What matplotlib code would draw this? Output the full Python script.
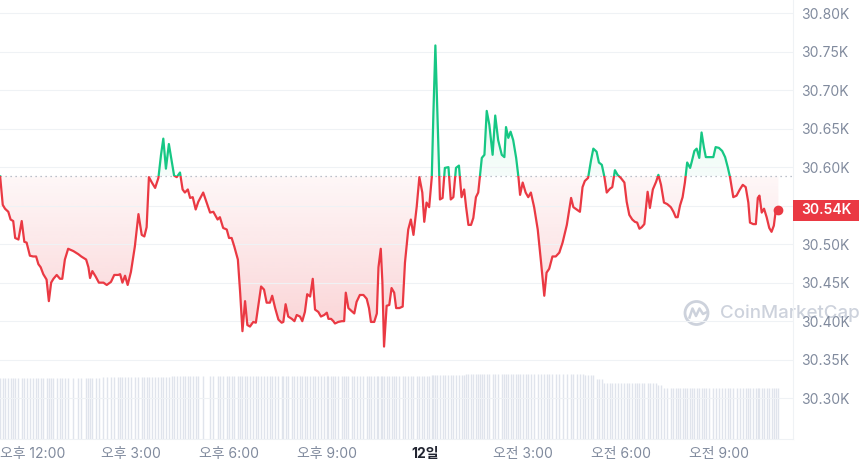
import numpy as np
import matplotlib
matplotlib.use("Agg")
import matplotlib.pyplot as plt
import matplotlib.transforms as mtransforms
from matplotlib.colors import to_rgb
from matplotlib.lines import Line2D
from matplotlib.patches import Circle, Rectangle
from matplotlib.path import Path

plt.rcParams["font.family"] = ["Inter", "Noto Sans CJK KR", "DejaVu Sans"]

# time in hours since midnight of the 11th (24 = midnight of the 12th)
hours = [
    11.01, 11.09, 11.16, 11.26, 11.33, 11.41, 11.47, 11.57, 11.67, 11.75,
    11.82, 11.92, 12.02, 12.11, 12.18, 12.25, 12.33, 12.43, 12.50, 12.57,
    12.64, 12.74, 12.84, 12.91, 12.99, 13.09, 13.25, 13.40, 13.49, 13.64,
    13.71, 13.76, 13.83, 13.93, 14.03, 14.17, 14.27, 14.40, 14.50, 14.62,
    14.68, 14.75, 14.83, 14.91, 15.01, 15.13, 15.24, 15.34, 15.42, 15.49,
    15.56, 15.65, 15.75, 15.85, 15.93, 16.00, 16.08, 16.17, 16.26, 16.33,
    16.41, 16.51, 16.59, 16.66, 16.75, 16.82, 16.90, 16.99, 17.07, 17.22,
    17.43, 17.53, 17.66, 17.73, 17.83, 17.94, 18.01, 18.09, 18.17, 18.28,
    18.35, 18.42, 18.50, 18.57, 18.65, 18.75, 18.83, 18.90, 18.99, 19.08,
    19.16, 19.26, 19.33, 19.42, 19.52, 19.62, 19.67, 19.74, 19.82, 19.93,
    20.01, 20.08, 20.18, 20.25, 20.33, 20.40, 20.49, 20.57, 20.64, 20.74,
    20.82, 20.92, 21.00, 21.05, 21.13, 21.20, 21.25, 21.35, 21.46, 21.53,
    21.58, 21.66, 21.76, 21.84, 21.91, 22.01, 22.12, 22.22, 22.29, 22.35,
    22.45, 22.53, 22.58, 22.65, 22.70, 22.75, 22.83, 22.91, 22.98, 23.06,
    23.12, 23.22, 23.32, 23.39, 23.49, 23.57, 23.65, 23.75, 23.83, 23.92,
    23.98, 24.05, 24.13, 24.21, 24.26, 24.32, 24.38, 24.46, 24.54, 24.61,
    24.72, 24.79, 24.87, 24.95, 25.04, 25.12, 25.20, 25.26, 25.33, 25.41,
    25.48, 25.56, 25.63, 25.68, 25.74, 25.82, 25.89, 25.97, 26.07, 26.15,
    26.24, 26.35, 26.43, 26.48, 26.55, 26.62, 26.70, 26.79, 26.86, 26.91,
    26.99, 27.08, 27.16, 27.24, 27.34, 27.45, 27.55, 27.65, 27.72, 27.80,
    27.90, 28.00, 28.11, 28.21, 28.34, 28.47, 28.54, 28.64, 28.74, 28.82,
    28.89, 28.99, 29.08, 29.15, 29.25, 29.32, 29.41, 29.49, 29.56, 29.66,
    29.73, 29.81, 29.89, 29.99, 30.10, 30.17, 30.25, 30.34, 30.42, 30.49,
    30.56, 30.63, 30.71, 30.81, 30.88, 30.97, 31.07, 31.14, 31.22, 31.31,
    31.41, 31.52, 31.60, 31.67, 31.73, 31.80, 31.88, 31.95, 32.02, 32.11,
    32.16, 32.24, 32.31, 32.39, 32.46, 32.53, 32.59, 32.69, 32.82, 32.89,
    32.99, 33.09, 33.18, 33.26, 33.33, 33.43, 33.53, 33.63, 33.72, 33.81,
    33.89, 33.94, 34.04, 34.12, 34.18, 34.23, 34.30, 34.37, 34.45, 34.53,
    34.60, 34.67, 34.73, 34.81,
]

prices = [
    30588, 30551, 30546, 30542, 30532, 30530, 30508, 30506, 30530, 30503,
    30502, 30485, 30484, 30484, 30474, 30470, 30461, 30454, 30426, 30450,
    30455, 30460, 30455, 30455, 30480, 30494, 30491, 30487, 30484, 30480,
    30470, 30456, 30465, 30458, 30450, 30450, 30447, 30451, 30460, 30460,
    30461, 30450, 30459, 30447, 30464, 30497, 30539, 30512, 30510, 30522,
    30587, 30580, 30573, 30586, 30616, 30637, 30598, 30630, 30607, 30589,
    30587, 30593, 30571, 30567, 30571, 30560, 30561, 30545, 30555, 30567,
    30541, 30542, 30532, 30535, 30521, 30519, 30508, 30508, 30497, 30480,
    30437, 30387, 30426, 30395, 30393, 30399, 30398, 30419, 30445, 30441,
    30424, 30424, 30433, 30417, 30402, 30398, 30399, 30422, 30406, 30403,
    30400, 30408, 30406, 30400, 30412, 30435, 30432, 30455, 30415, 30412,
    30406, 30408, 30411, 30403, 30403, 30400, 30397, 30399, 30400, 30400,
    30437, 30417, 30413, 30410, 30425, 30434, 30434, 30429, 30417, 30399,
    30399, 30410, 30470, 30494, 30450, 30367, 30420, 30421, 30443, 30437,
    30417, 30417, 30419, 30476, 30519, 30532, 30512, 30549, 30587, 30567,
    30529, 30554, 30548, 30587, 30671, 30758, 30671, 30558, 30560, 30599,
    30600, 30558, 30561, 30599, 30602, 30561, 30571, 30548, 30525, 30525,
    30534, 30561, 30567, 30587, 30612, 30616, 30673, 30655, 30616, 30667,
    30635, 30616, 30613, 30652, 30638, 30646, 30635, 30612, 30587, 30564,
    30580, 30567, 30561, 30567, 30548, 30519, 30477, 30433, 30463, 30468,
    30484, 30484, 30489, 30502, 30525, 30560, 30548, 30545, 30542, 30574,
    30582, 30586, 30609, 30624, 30620, 30606, 30603, 30587, 30567, 30572,
    30574, 30596, 30590, 30586, 30580, 30555, 30538, 30532, 30529, 30528,
    30520, 30522, 30526, 30568, 30547, 30571, 30581, 30590, 30577, 30554,
    30552, 30548, 30542, 30535, 30535, 30550, 30561, 30580, 30606, 30599,
    30607, 30621, 30624, 30612, 30645, 30626, 30613, 30613, 30613, 30626,
    30625, 30621, 30613, 30600, 30587, 30561, 30563, 30571, 30577, 30574,
    30554, 30528, 30526, 30526, 30560, 30563, 30541, 30546, 30535, 30521,
    30516, 30524, 30544, 30544,
]

# 24h volume (billions USD, relative scale only)
volume_bn = [
    12.3, 12.3, 12.3, 12.3, 12.3, 12.3, 12.3, 12.3, 12.3, 12.3,
    12.3, 12.3, 12.3, 12.3, 12.3, 12.3, 12.3, 12.3, 12.3, 12.3,
    12.3, 12.3, 12.3, 12.3, 12.3, 12.3, 12.3, 12.3, 12.3, 12.3,
    12.3, 12.3, 12.3, 12.3, 12.3, 12.5, 12.5, 12.5, 12.5, 12.5,
    12.5, 12.5, 12.5, 12.5, 12.5, 12.5, 12.5, 12.5, 12.5, 12.5,
    12.5, 12.5, 12.5, 12.5, 12.5, 12.5, 12.5, 12.5, 12.7, 12.7,
    12.7, 12.7, 12.7, 12.7, 12.7, 12.7, 12.7, 12.7, 12.7, 12.7,
    12.7, 12.7, 12.7, 12.7, 12.7, 12.7, 12.7, 12.7, 12.7, 12.7,
    12.7, 12.7, 12.7, 12.7, 12.7, 12.7, 12.7, 12.7, 12.7, 12.7,
    12.7, 12.7, 12.7, 12.7, 12.7, 12.7, 12.7, 12.7, 12.7, 12.7,
    12.7, 12.7, 12.7, 12.7, 12.7, 12.7, 12.7, 12.7, 12.7, 12.7,
    12.7, 12.7, 12.7, 12.7, 12.7, 12.7, 12.7, 12.7, 12.7, 12.7,
    12.7, 12.7, 12.7, 12.7, 12.7, 12.7, 12.7, 12.7, 12.7, 12.7,
    12.7, 12.7, 12.7, 12.7, 12.7, 12.7, 12.7, 12.7, 12.7, 12.7,
    12.7, 12.7, 12.7, 12.7, 12.7, 12.7, 12.7, 12.7, 12.7, 12.7,
    12.7, 12.7, 12.7, 12.9, 12.9, 12.9, 12.9, 12.9, 12.9, 12.9,
    12.9, 12.9, 12.9, 12.9, 12.9, 12.9, 12.9, 13.1, 13.1, 13.1,
    13.1, 13.1, 13.1, 13.1, 13.1, 13.1, 13.1, 13.1, 13.1, 13.1,
    13.1, 13.1, 13.1, 13.1, 13.1, 13.1, 13.1, 13.1, 13.1, 13.1,
    13.1, 13.1, 13.1, 13.1, 13.1, 13.1, 13.1, 13.1, 13.1, 13.1,
    13.1, 13.1, 13.1, 13.1, 13.1, 13.1, 13.1, 13.1, 13.1, 13.1,
    12.8, 12.8, 12.8, 12.8, 12.0, 12.0, 12.0, 11.3, 11.3, 11.3,
    11.3, 11.3, 11.3, 11.3, 11.3, 11.3, 11.3, 11.3, 11.3, 11.3,
    11.3, 11.3, 11.3, 11.3, 11.3, 11.3, 11.3, 10.8, 10.8, 10.3,
    10.3, 10.3, 10.3, 10.3, 10.3, 10.3, 10.3, 10.3, 10.3, 10.3,
    10.3, 10.3, 10.3, 10.3, 10.3, 10.3, 10.3, 10.3, 10.3, 10.3,
    10.3, 10.3, 10.3, 10.3, 10.3, 10.3, 10.3, 10.3, 10.3, 10.3,
    10.3, 10.3, 10.3, 10.3, 10.3, 10.3, 10.3, 10.3, 10.3, 10.3,
    10.3, 10.3, 10.3, 10.3,
]

x_ticks = [12, 15, 18, 21, 24, 27, 30, 33]
x_labels = ["오후 12:00", "오후 3:00", "오후 6:00", "오후 9:00", "12일",
            "오전 3:00", "오전 6:00", "오전 9:00"]
y_ticks = [30300, 30350, 30400, 30450, 30500, 30550, 30600, 30650, 30700, 30750, 30800]
y_labels = ["30.30K", "30.35K", "30.40K", "30.45K", "30.50K", "",
            "30.60K", "30.65K", "30.70K", "30.75K", "30.80K"]

RED = "#ea3943"
GREEN = "#16c784"
GRID = "#eff2f5"
MUTED = "#808a9d"

open_price = prices[0]
last_price = prices[-1]
x0, x1 = 11.006, 35.256
y0, y1 = 30247, 30817

fig = plt.figure(figsize=(8.6, 4.69), dpi=100)
rect = [0, 30 / 469, 793 / 860, 439 / 469]

# watermark sits under everything else
wm = "#cdd2dc"
fig.add_artist(Circle((6.965, 1.56), 0.115, transform=fig.dpi_scale_trans,
                      facecolor="none", edgecolor=wm, lw=2.0, zorder=-1))
fig.add_artist(Line2D([6.895, 6.925, 6.96, 6.995, 7.03, 7.06],
                      [1.515, 1.605, 1.53, 1.605, 1.55, 1.565],
                      transform=fig.dpi_scale_trans, color=wm, lw=1.8, zorder=-1))
fig.text(7.2 / 8.6, 1.56 / 4.69, "CoinMarketCap", fontsize=13.5, color=wm,
         ha="left", va="center", fontweight="medium", zorder=-1)

# volume bars live on their own axes behind the price
vax = fig.add_axes(rect)
vax.vlines(hours, 0, volume_bn, color="#e0e4ec", lw=1.0)
vax.set_xlim(x0, x1)
vax.set_ylim(0, 87.8)
vax.axis("off")

ax = fig.add_axes(rect)
ax.patch.set_visible(False)

hrs = np.array(hours)
px = np.array(prices)


def gradient_fill(mask, color, y_far, a_near, a_far):
    poly = ax.fill_between(hrs, px, open_price, where=mask, interpolate=True,
                           facecolor="none", edgecolor="none")
    clip = Path.make_compound_path(*poly.get_paths())
    rgba = np.zeros((256, 1, 4))
    rgba[..., :3] = to_rgb(color)
    if y_far < open_price:
        rgba[:, 0, 3] = np.linspace(a_far, a_near, 256)
        ext = [x0, x1, y_far, open_price]
    else:
        rgba[:, 0, 3] = np.linspace(a_near, a_far, 256)
        ext = [x0, x1, open_price, y_far]
    img = ax.imshow(rgba, extent=ext, origin="lower", aspect="auto",
                    interpolation="bilinear", zorder=1)
    img.set_clip_path(clip, ax.transData)


gradient_fill(px <= open_price, RED, 30360, 0.04, 0.24)
gradient_fill(px >= open_price, GREEN, 30760, 0.04, 0.16)

ax.axhline(open_price, color="#a6adbb", lw=0.9, ls=(0, (1, 3)), zorder=2)

red_line, = ax.plot(hrs, px, color=RED, lw=1.6, zorder=3, solid_joinstyle="round")
red_line.set_clip_path(Rectangle((x0, y0), x1 - x0, open_price - y0, transform=ax.transData))
green_line, = ax.plot(hrs, px, color=GREEN, lw=1.6, zorder=3, solid_joinstyle="round")
green_line.set_clip_path(Rectangle((x0, open_price), x1 - x0, y1 - open_price,
                                   transform=ax.transData))
ax.plot(hours[-1], last_price, "o", color=RED, ms=6, zorder=4, clip_on=False)

ax.set_xlim(x0, x1)
ax.set_ylim(y0, y1)

ax.yaxis.tick_right()
ax.set_yticks(y_ticks)
ax.set_yticklabels(y_labels)
ax.set_xticks(x_ticks)
ax.set_xticklabels(x_labels)
ax.tick_params(axis="y", length=0, pad=6, labelcolor=MUTED, labelsize=10)
ax.tick_params(axis="x", length=0, pad=6, labelcolor=MUTED, labelsize=10)
ax.get_xticklabels()[4].set_fontweight("bold")
ax.get_xticklabels()[4].set_color("#222531")
ax.grid(axis="y", color=GRID, lw=0.8, zorder=0)
for side in ["top", "left"]:
    ax.spines[side].set_visible(False)
for side in ["right", "bottom"]:
    ax.spines[side].set_color(GRID)
    ax.spines[side].set_linewidth(0.8)

# current price tag
blend = mtransforms.blended_transform_factory(ax.transAxes, ax.transData)
tag_w = 66 / 793
ax.add_patch(Rectangle((1.0, last_price - 13.6), tag_w, 27.2, transform=blend,
                       facecolor=RED, edgecolor="none", clip_on=False, zorder=5))
ax.text(1.0 + tag_w / 2, last_price, f"{last_price / 1000:.2f}K", transform=blend,
        ha="center", va="center", color="white", fontsize=10, fontweight="semibold",
        zorder=6, clip_on=False)

fig.savefig("out.png", dpi=100)
